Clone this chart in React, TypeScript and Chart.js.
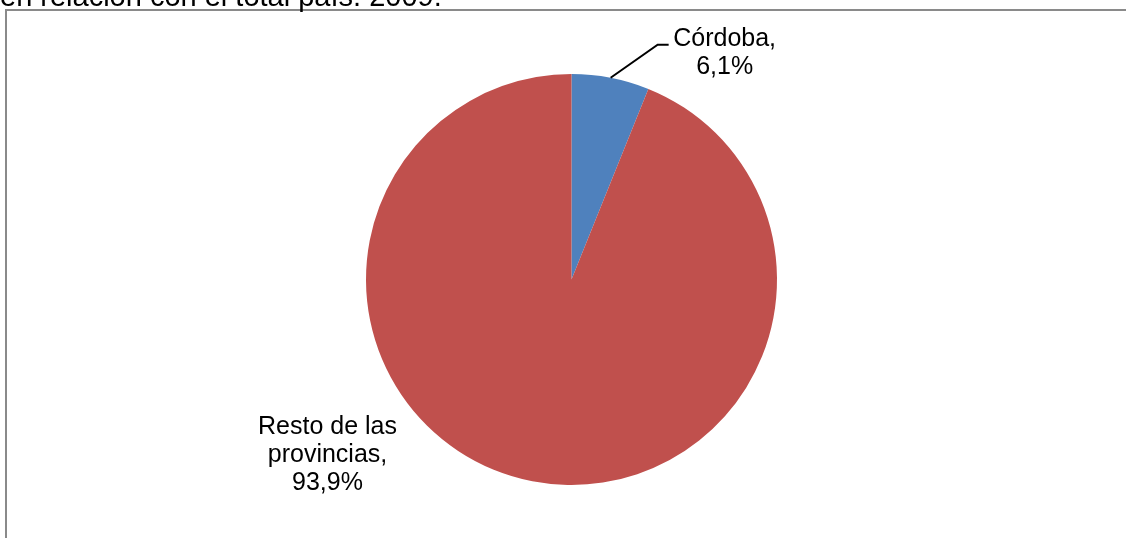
import React, { useEffect, useRef } from "react";
import { Chart, registerables } from "chart.js";

Chart.register(...registerables);

const titleText = "en relación con el total país. 2009.";
const categories = ["Córdoba", "Resto de las provincias"];
const values = [6.1, 93.9];
const nameLines = [["Córdoba,"], ["Resto de las", "provincias,"]];
const colors = ["#4F81BD", "#C0504D"];

const fmtPct = (v: number) => v.toFixed(1).replace(".", ",") + "%";

const labelPlugin = {
  id: "pieLabels",
  afterDatasetsDraw(chart: any) {
    const ctx = chart.ctx;
    const meta = chart.getDatasetMeta(0);
    ctx.save();
    ctx.font = '25px "Liberation Sans", Arial, sans-serif';
    ctx.fillStyle = "#000";
    ctx.textAlign = "center";
    ctx.textBaseline = "alphabetic";
    const lh = 28;
    meta.data.forEach((arc: any, i: number) => {
      const p = arc.getProps(["x", "y", "startAngle", "endAngle", "outerRadius"], true);
      const lines = [...nameLines[i], fmtPct(values[i])];
      if (i === 0) {
        const mid = (p.startAngle + p.endAngle) / 2;
        const sx = p.x + Math.cos(mid) * p.outerRadius;
        const sy = p.y + Math.sin(mid) * p.outerRadius;
        const ex = sx + 47;
        const ey = sy - 33;
        const fx = ex + 11;
        ctx.beginPath();
        ctx.strokeStyle = "#000";
        ctx.lineWidth = 2;
        ctx.moveTo(sx, sy);
        ctx.lineTo(ex, ey);
        ctx.lineTo(fx, ey);
        ctx.stroke();
        const cx = fx + 56;
        lines.forEach((t, k) => ctx.fillText(t, cx, ey + 1 + k * lh));
      } else {
        const cx = p.x - 244;
        const by = p.y + 154;
        lines.forEach((t, k) => ctx.fillText(t, cx, by + k * lh));
      }
    });
    ctx.restore();
  },
};

export default function App() {
  const ref = useRef<HTMLCanvasElement>(null);
  useEffect(() => {
    if (!ref.current) return;
    const chart = new Chart(ref.current, {
      type: "pie",
      data: {
        labels: categories,
        datasets: [
          {
            data: values,
            backgroundColor: colors,
            borderWidth: 0,
          },
        ],
      },
      options: {
        responsive: false,
        maintainAspectRatio: false,
        animation: false,
        layout: { padding: { left: 366, right: 349, top: 74, bottom: 53 } },
        plugins: {
          legend: { display: false },
          tooltip: { enabled: false },
          title: { display: false },
        },
      },
      plugins: [labelPlugin],
    });
    return () => chart.destroy();
  }, []);

  return (
    <div
      style={{
        position: "fixed",
        left: 0,
        top: 0,
        width: 1126,
        height: 538,
        overflow: "hidden",
        background: "#fff",
      }}
    >
      <div
        style={{
          position: "absolute",
          left: 5,
          top: 9,
          width: 2000,
          height: 2000,
          borderTop: "2px solid #8a8a8a",
          borderLeft: "2px solid #8a8a8a",
        }}
      />
      <canvas
        ref={ref}
        width={1126}
        height={538}
        style={{ position: "absolute", left: 0, top: 0, width: 1126, height: 538 }}
      />
      <div
        style={{
          position: "absolute",
          left: 0,
          top: -18,
          font: '29px "Liberation Sans", Arial, sans-serif',
          lineHeight: "29px",
          whiteSpace: "nowrap",
          color: "#000",
        }}
      >
        {titleText}
      </div>
    </div>
  );
}
